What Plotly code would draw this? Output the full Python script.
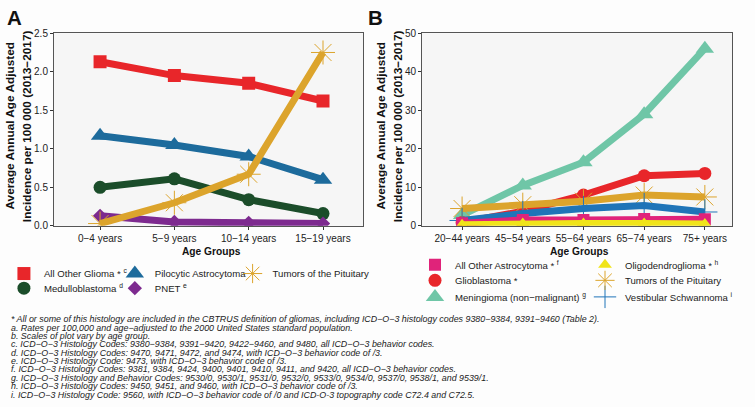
import plotly.graph_objects as go

# ---------------- data ----------------
ages_a = ["0\u22124 years", "5\u22129 years", "10\u221214 years", "15\u221219 years"]
glioma_other = [2.13, 1.95, 1.85, 1.62]
pilocytic = [1.17, 1.05, 0.90, 0.60]
medullo = [0.50, 0.61, 0.34, 0.16]
pnet = [0.13, 0.05, 0.04, 0.03]
pituitary_a = [0.03, 0.30, 0.67, 2.25]

ages_b = ["20\u221244 years", "45\u221254 years", "55\u221264 years", "65\u221274 years", "75+ years"]
astro_other = [0.7, 1.5, 1.5, 1.8, 1.7]
glioblastoma = [0.9, 3.8, 8.0, 13.0, 13.6]
meningioma = [2.8, 10.5, 16.5, 29.0, 46.0]
oligo = [0.3, 0.6, 0.6, 0.6, 0.5]
pituitary_b = [4.5, 5.5, 6.4, 8.0, 7.5]
vestibular = [1.4, 3.2, 4.5, 5.3, 3.6]

yticks_a = [0.0, 0.5, 1.0, 1.5, 2.0, 2.5]
yticks_b = [0, 10, 20, 30, 40, 50]

footnotes = [
    "* All or some of this histology are included in the CBTRUS definition of gliomas, including ICD\u2212O\u22123 histology codes 9380\u22129384, 9391\u22129460 (Table 2).",
    "a. Rates per 100,000 and age\u2212adjusted to the 2000 United States standard population.",
    "b. Scales of plot vary by age group.",
    "c. ICD\u2212O\u22123 Histology Codes: 9380\u22129384, 9391\u22129420, 9422\u22129460, and 9480, all ICD\u2212O\u22123 behavior codes.",
    "d. ICD\u2212O\u22123 Histology Codes: 9470, 9471, 9472, and 9474, with ICD\u2212O\u22123 behavior code of /3.",
    "e. ICD\u2212O\u22123 Histology Code: 9473, with ICD\u2212O\u22123 behavior code of /3.",
    "f. ICD\u2212O\u22123 Histology Codes: 9381, 9384, 9424, 9400, 9401, 9410, 9411, and 9420, all ICD\u2212O\u22123 behavior codes.",
    "g. ICD\u2212O\u22123 Histology and Behavior Codes: 9530/0, 9530/1, 9531/0, 9532/0, 9533/0, 9534/0, 9537/0, 9538/1, and 9539/1.",
    "h. ICD\u2212O\u22123 Histology Codes: 9450, 9451, and 9460, with ICD\u2212O\u22123 behavior code of /3.",
    "i. ICD\u2212O\u22123 Histology Code: 9560, with ICD\u2212O\u22123 behavior code of /0 and ICD-O-3 topography code C72.4 and C72.5.",
]

W, H = 755, 407
FONT = "Arial, Liberation Sans, sans-serif"

def px_x(p):
    return p / W

def px_y(p):
    return 1 - p / H

fig = go.Figure()

def add(x, y, name, color, symbol, size, xa, ya, legend, lw=7, mline=None):
    marker = dict(color=color, symbol=symbol, size=size)
    if mline is not None:
        marker["line"] = dict(color=color, width=mline)
    fig.add_trace(go.Scatter(
        x=x, y=y, name=name, mode="lines+markers",
        line=dict(color=color, width=lw), marker=marker,
        xaxis=xa, yaxis=ya, showlegend=False, hoverinfo="x+y+name",
    ))
    # legend key (marker only, like the reference keys)
    fig.add_trace(go.Scatter(
        x=[None], y=[None], name=name, mode="markers", marker=marker,
        xaxis=xa, yaxis=ya, legend=legend, showlegend=True, hoverinfo="skip",
    ))

# Panel A
add(ages_a, medullo, "Medulloblastoma <sup>d</sup>", "#1b4d2a", "circle", 13, "x", "y", "legend2")
add(ages_a, pnet, "PNET <sup>e</sup>", "#7d2a8f", "diamond", 11, "x", "y", "legend8")
add(ages_a, glioma_other, "All Other Glioma * <sup>c</sup>", "#e8262a", "square", 13, "x", "y", "legend")
add(ages_a, pilocytic, "Pilocytic Astrocytoma", "#1d6b9c", "triangle-up", 16, "x", "y", "legend7")
add(ages_a, pituitary_a, "Tumors of the Pituitary", "#dca42c", "asterisk-open", 20, "x", "y", "legend6", mline=1)
# Panel B
add(ages_b, meningioma, "Meningioma (non\u2212malignant) <sup>g</sup>", "#6fc6a7", "triangle-up", 16, "x2", "y2", "legend5")
add(ages_b, glioblastoma, "Glioblastoma *", "#e8262a", "circle", 13, "x2", "y2", "legend4")
add(ages_b, pituitary_b, "Tumors of the Pituitary", "#dca42c", "asterisk-open", 20, "x2", "y2", "legend4", mline=1)
add(ages_b, vestibular, "Vestibular Schwannoma <sup>i</sup>", "#1f74b8", "cross-thin-open", 18, "x2", "y2", "legend5", mline=1)
add(ages_b, astro_other, "All Other Astrocytoma * <sup>f</sup>", "#e0237a", "square", 12, "x2", "y2", "legend3")
add(ages_b, oligo, "Oligodendroglioma * <sup>h</sup>", "#f0e41a", "triangle-up", 12, "x2", "y2", "legend3")

axis_common = dict(
    showline=True, linecolor="#555555", linewidth=1, mirror=True,
    ticks="outside", ticklen=3, tickcolor="#333333",
    tickfont=dict(family=FONT, size=10, color="#222222"),
    showgrid=False, zeroline=False,
)

fig.update_layout(
    width=W, height=H,
    margin=dict(l=0, r=0, t=0, b=0),
    paper_bgcolor="#fdfdfd", plot_bgcolor="#f6f6f6",
    font=dict(family=FONT, size=10, color="#222222"),
    xaxis=dict(domain=[px_x(55), px_x(370)], anchor="y", type="category",
               range=[-0.62, 3.54], **axis_common),
    yaxis=dict(domain=[px_y(227), px_y(29)], anchor="x", range=[0, 2.5],
               tickvals=yticks_a, ticktext=[f"{v:.1f}" for v in yticks_a], **axis_common),
    xaxis2=dict(domain=[px_x(430), px_x(746)], anchor="y2", type="category",
                range=[-0.66, 4.45], **axis_common),
    yaxis2=dict(domain=[px_y(227), px_y(29)], anchor="x2", range=[0, 50],
                tickvals=yticks_b, **axis_common),
    showlegend=True,
)

leg_common = dict(orientation="h", bgcolor="rgba(0,0,0,0)", font=dict(family=FONT, size=9.6, color="#222222"),
                  xanchor="left", yanchor="middle", entrywidthmode="pixels",
                  itemclick=False, itemdoubleclick=False, traceorder="normal")
fig.update_layout(
    legend=dict(x=px_x(4), y=px_y(276), entrywidth=110, **leg_common),
    legend7=dict(x=px_x(117), y=px_y(276), entrywidth=110, **leg_common),
    legend6=dict(x=px_x(237), y=px_y(276), entrywidth=115, **leg_common),
    legend2=dict(x=px_x(4), y=px_y(291), entrywidth=110, **leg_common),
    legend8=dict(x=px_x(117), y=px_y(291), entrywidth=110, **leg_common),
    legend3=dict(x=px_x(423), y=px_y(267), entrywidth=125, **leg_common),
    legend4=dict(x=px_x(423), y=px_y(283), entrywidth=125, **leg_common),
    legend5=dict(x=px_x(423), y=px_y(300), entrywidth=125, **leg_common),
)

ann = []
# panel labels
for lab, cx in (("A", 15), ("B", 383)):
    ann.append(dict(text="<b>" + lab + "</b>", x=px_x(cx), y=px_y(13), xref="paper", yref="paper",
                    xanchor="center", yanchor="middle", showarrow=False,
                    font=dict(family=FONT, size=20.5, color="#111111")))
# y titles
ytitle = ["<b>Average Annual Age Adjusted</b>", "<b>Incidence per 100\u2009000 (2013\u22122017)</b>"]
for base in (0, 378):
    for xx, t in ((10, ytitle[0]), (27, ytitle[1])):
        ann.append(dict(text=t, x=px_x(base + xx), y=px_y(124), xref="paper", yref="paper",
                        xanchor="center", yanchor="middle", showarrow=False, textangle=-90,
                        font=dict(family=FONT, size=11.8, color="#111111")))
# x titles
for cx in (215, 590):
    ann.append(dict(text="<b>Age Groups</b>", x=px_x(cx), y=px_y(253), xref="paper", yref="paper",
                    xanchor="center", yanchor="middle", showarrow=False,
                    font=dict(family=FONT, size=10.2, color="#111111")))
# footnotes
for i, t in enumerate(footnotes):
    ann.append(dict(text="<i>" + t + "</i>", x=px_x(10), y=px_y(323 + i * 8.6), xref="paper", yref="paper",
                    xanchor="left", yanchor="middle", showarrow=False, borderpad=0,
                    font=dict(family=FONT, size=8.9, color="#222222")))
fig.update_layout(annotations=ann)

fig.write_html("out.html", config={"displayModeBar": False},
               post_script="document.body.style.margin='0';")
